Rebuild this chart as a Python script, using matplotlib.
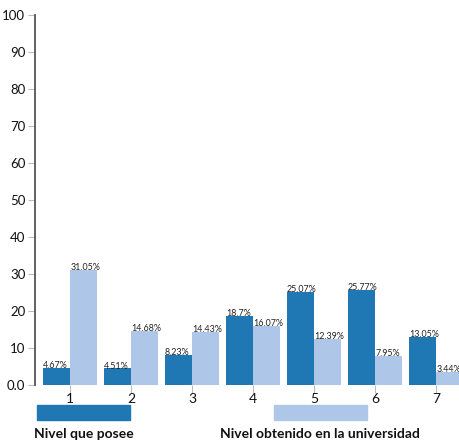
import numpy as np
import matplotlib.pyplot as plt
from matplotlib.patches import Rectangle

plt.rcParams['font.family'] = ['Lato', 'DejaVu Sans']

# datos
categorias = ['1', '2', '3', '4', '5', '6', '7']
nivel_posee = [4.67, 4.51, 8.23, 18.7, 25.07, 25.77, 13.05]
nivel_universidad = [31.05, 14.68, 14.43, 16.07, 12.39, 7.95, 3.44]
series = ['Nivel que posee', 'Nivel obtenido en la universidad']
colores = ['#1f77b4', '#aec7e8']
yticks = [0, 10, 20, 30, 40, 50, 60, 70, 80, 90, 100]
ylabels = ['0.0'] + [str(v) for v in yticks[1:]]

W, H = 459, 441
fig = plt.figure(figsize=(W / 100, H / 100), dpi=100)
ax = fig.add_axes([35 / W, 1 - 385 / H, 1 - 35 / W, (385 - 15) / H])

x = np.arange(1, len(categorias) + 1)
ancho = 0.44
for vals, off, col in [(nivel_posee, -0.225, colores[0]),
                       (nivel_universidad, 0.225, colores[1])]:
    ax.bar(x + off, vals, width=ancho, color=col)
    for xi, v in zip(x + off, vals):
        ax.text(xi - ancho / 2, v - 0.6, f'{v:g}%', ha='left', va='bottom',
                fontsize=6.4, color='#222222')

ax.set_xlim(1 - 35 / 61, 1 + (459 - 70) / 61)
ax.set_ylim(0, 100)
ax.set_yticks(yticks)
ax.set_yticklabels(ylabels)
ax.set_xticks(x)
ax.set_xticklabels(categorias)

for s in ['top', 'right', 'bottom']:
    ax.spines[s].set_visible(False)
ax.spines['left'].set_color('#555555')
ax.spines['left'].set_linewidth(1.3)
ax.tick_params(axis='y', length=5, color='#bbbbbb', labelsize=9.5, pad=2,
               labelcolor='#111111')
ax.tick_params(axis='x', length=6, color='#bbbbbb', labelsize=10, pad=0,
               labelcolor='#111111')

# leyenda
for (x0, cx), col, txt in zip([(37, 84), (274, 320)], colores, series):
    fig.add_artist(Rectangle((x0 / W, 1 - 420 / H), 93 / W, 15 / H,
                             transform=fig.transFigure, color=col))
    fig.text(cx / W, 1 - 434 / H, txt, ha='center', va='center',
             fontsize=10, fontweight='bold', color='#111111')

fig.savefig('out.png', dpi=100)
